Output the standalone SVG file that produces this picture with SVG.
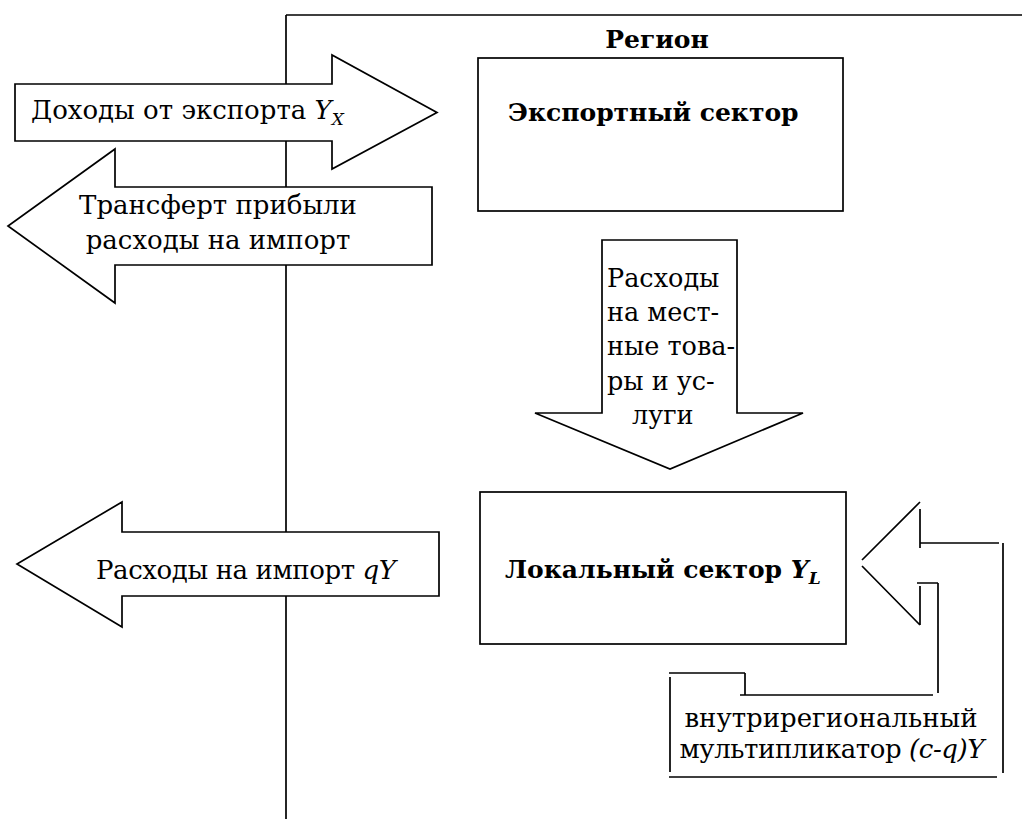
<svg xmlns="http://www.w3.org/2000/svg" width="1022" height="819" viewBox="0 0 1022 819">
<style>
.s{fill:#fff;stroke:#000;stroke-width:1.7}
.l{fill:none;stroke:#000;stroke-width:1.7}
text{font-family:'DejaVu Serif','Liberation Serif',serif;font-size:26px;fill:#000}
.b{font-weight:bold;font-size:25px}
.i{font-style:italic}
.sub{font-size:17px}
.d{font-size:25.5px}
</style>
<rect width="1022" height="819" fill="#fff"/>
<g id="region">
<path class="l" d="M286,15 H1022 M286,15 V819"/>
<text class="b" x="657" y="48" text-anchor="middle">Регион</text>
</g>
<g id="export-sector">
<rect class="s" x="478" y="58" width="365" height="153"/>
<text class="b" x="508" y="121">Экспортный сектор</text>
</g>
<g id="local-sector">
<rect class="s" x="480" y="492" width="366" height="152"/>
<text class="b" x="505" y="578">Локальный сектор <tspan class="i">Y</tspan><tspan class="i sub" dy="6">L</tspan></text>
</g>
<g id="connectors">
<g id="export-income">
<path class="s" d="M15,84 H332 V55 L437,112.5 L332,169 V141 H15 Z"/>
<text x="31" y="119">Доходы от экспорта <tspan class="i">Y</tspan><tspan class="i sub" dy="6">X</tspan></text>
</g>
<g id="transfer">
<path class="s" d="M432,187 V265 H115 V303 L8,226 L115,149 V187 Z"/>
<text x="218" y="214" text-anchor="middle">Трансферт прибыли</text>
<text x="218" y="249" text-anchor="middle">расходы на импорт</text>
</g>
<g id="import">
<path class="s" d="M439,532 V596 H122 V627 L17,564 L122,502 V532 Z"/>
<text x="96" y="579" textLength="300">Расходы на импорт <tspan class="i">qY</tspan></text>
</g>
<g id="local-spending">
<path class="s" d="M602,240 H737 V413 H803 L670,469 L535,413 H602 Z"/>
<text class="d" x="607" y="287">Расходы</text>
<text class="d" x="607" y="321">на мест-</text>
<text class="d" x="607" y="355">ные това-</text>
<text class="d" x="607" y="390">ры и ус-</text>
<text class="d" x="632" y="424">луги</text>
</g>
<g id="multiplier">
<path class="l" d="M862,560 L920,502 M862,566 L920,625 M920,509 V548 M920,543 H999 M1003,543 V773 M920,586 V625 M917,583 H938 M938,583 V693 M740,695 H933 M745,673 V695 M669,673 H745 M670,677 V772 M669,777 H997"/>
<text x="831" y="727" text-anchor="middle">внутрирегиональный</text>
<text x="832" y="758" text-anchor="middle" textLength="305">мультипликатор <tspan class="i">(c-q)Y</tspan></text>
</g>
</g>
</svg>
